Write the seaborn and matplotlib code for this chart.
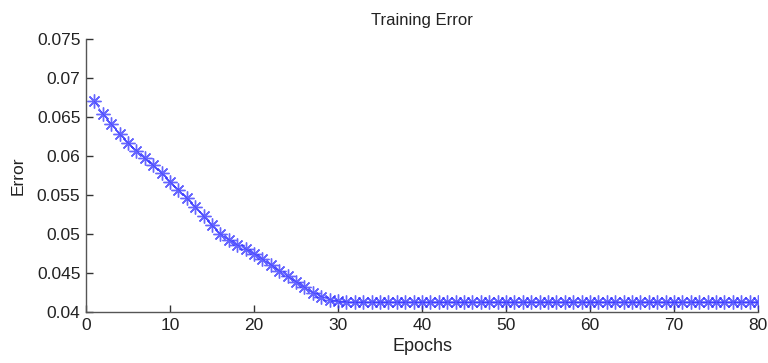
import matplotlib
matplotlib.use("Agg")
import matplotlib.pyplot as plt
import seaborn as sns
import pandas as pd
import numpy as np

epochs = list(range(1, 81))
error_head = [0.0670, 0.0654, 0.0641, 0.0628, 0.0617, 0.0607, 0.0597, 0.0588, 0.0578, 0.0567,
              0.0557, 0.0546, 0.0535, 0.0523, 0.0511, 0.0500, 0.0493, 0.0486, 0.0481, 0.0475,
              0.0468, 0.0461, 0.0453, 0.0446, 0.0439, 0.0432, 0.0425, 0.0420, 0.0416, 0.0414]
error_tail = [0.0413] * 50
error = error_head + error_tail

df = pd.DataFrame({"Epochs": epochs, "Error": error})

sns.set_style("white")
plt.rcParams['font.family'] = ['Liberation Sans', 'DejaVu Sans']

fig = plt.figure(figsize=(7.68, 3.63), dpi=100)
ax = fig.add_axes([0.112, 0.14, 0.875, 0.753])
sns.lineplot(data=df, x="Epochs", y="Error", ax=ax, color="#3333ff", linewidth=0.5,
             marker=(8, 2, 0), markersize=10, markeredgewidth=1.0, alpha=0.75,
             markeredgecolor="#3333ff")

ax.set_xlim(0, 80)
ax.set_ylim(0.04, 0.075)
ax.set_xticks([0, 10, 20, 30, 40, 50, 60, 70, 80])
ax.set_yticks([0.04, 0.045, 0.05, 0.055, 0.06, 0.065, 0.07, 0.075])
ax.set_yticklabels(["0.04", "0.045", "0.05", "0.055", "0.06", "0.065", "0.07", "0.075"])
ax.tick_params(direction="in", length=5, width=1, colors="#333333", labelsize=12.5,
               labelcolor="#222222", pad=4, left=True, bottom=True)
for s in ["top", "right"]:
    ax.spines[s].set_visible(False)
for s in ["left", "bottom"]:
    ax.spines[s].set_color("#555555")
    ax.spines[s].set_linewidth(1.0)

ax.set_title("Training Error", fontsize=12, color="#222222", pad=10)
ax.set_xlabel("Epochs", fontsize=13, color="#222222", labelpad=4)
ax.set_ylabel("Error", fontsize=12.5, color="#222222", labelpad=8)

fig.savefig("out.png", dpi=100)
